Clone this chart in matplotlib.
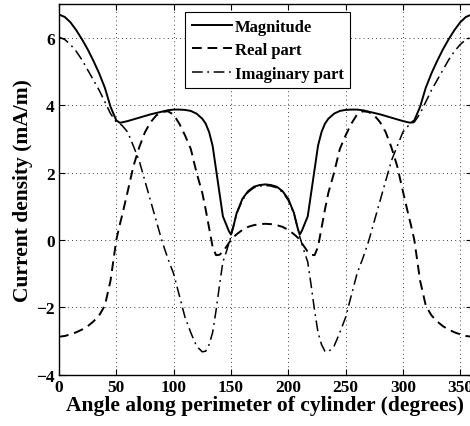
import matplotlib
matplotlib.use("Agg")
import matplotlib.pyplot as plt

angle = [0, 5, 10, 15, 20, 25, 30, 35, 40, 45, 50, 53, 55, 60, 65, 70, 75, 80, 85, 90,
         95, 100, 105, 110, 115, 120, 125, 128, 131, 134, 137, 140, 143, 146, 148, 150,
         152, 155, 160, 165, 170, 175, 180,
         185, 190, 195, 200, 205, 208, 210, 212, 214, 217, 220, 223, 226, 229, 232, 235,
         240, 245, 250, 255, 260, 265, 270, 275, 280, 285, 290, 295, 300, 305, 307, 310,
         315, 320, 325, 330, 335, 340, 345, 350, 355, 360]

magnitude = [6.69, 6.62, 6.46, 6.23, 5.96, 5.66, 5.32, 4.95, 4.52, 3.95, 3.55, 3.48, 3.49,
             3.53, 3.58, 3.63, 3.68, 3.73, 3.77, 3.81, 3.85, 3.87, 3.87, 3.86, 3.83, 3.75,
             3.60, 3.45, 3.20, 2.80, 2.10, 1.40, 0.70, 0.45, 0.28, 0.16, 0.38, 0.80, 1.22,
             1.45, 1.58, 1.63, 1.65,
             1.63, 1.58, 1.45, 1.22, 0.80, 0.38, 0.16, 0.28, 0.45, 0.70, 1.40, 2.10, 2.80,
             3.20, 3.45, 3.60, 3.75, 3.83, 3.86, 3.87, 3.87, 3.85, 3.81, 3.77, 3.73, 3.68,
             3.63, 3.58, 3.53, 3.49, 3.48, 3.55, 3.95, 4.52, 4.95, 5.32, 5.66, 5.96, 6.23,
             6.46, 6.62, 6.69]

real_part = [-2.87, -2.85, -2.80, -2.74, -2.66, -2.56, -2.42, -2.24, -1.95, -1.20, 0.00,
             0.45, 0.72, 1.45, 2.20, 2.75, 3.20, 3.50, 3.70, 3.80, 3.82, 3.72, 3.45, 3.10,
             2.70, 2.00, 1.40, 0.90, 0.35, -0.20, -0.45, -0.44, -0.35, -0.20, -0.10, 0.00,
             0.08, 0.17, 0.30, 0.39, 0.44, 0.47, 0.48,
             0.47, 0.44, 0.39, 0.30, 0.17, 0.08, 0.00, -0.10, -0.20, -0.35, -0.44, -0.45,
             -0.20, 0.35, 0.90, 1.40, 2.00, 2.70, 3.10, 3.45, 3.72, 3.82, 3.80, 3.70, 3.50,
             3.20, 2.75, 2.20, 1.45, 0.72, 0.45, 0.00, -1.20, -1.95, -2.24, -2.42, -2.56,
             -2.66, -2.74, -2.80, -2.85, -2.87]

imag_part = [6.02, 5.95, 5.80, 5.60, 5.35, 5.05, 4.75, 4.45, 4.10, 3.75, 3.50, 3.45, 3.40,
             3.20, 2.78, 2.35, 1.75, 1.15, 0.55, -0.05, -0.55, -1.00, -1.65, -2.30, -2.75,
             -3.15, -3.32, -3.30, -3.10, -2.75, -2.10, -1.35, -0.65, -0.35, -0.12, 0.10,
             0.38, 0.78, 1.18, 1.42, 1.55, 1.60, 1.62,
             1.60, 1.55, 1.42, 1.18, 0.78, 0.38, 0.10, -0.12, -0.35, -0.65, -1.35, -2.10,
             -2.75, -3.10, -3.30, -3.32, -3.15, -2.75, -2.30, -1.65, -1.00, -0.55, -0.05,
             0.55, 1.15, 1.75, 2.35, 2.78, 3.20, 3.40, 3.45, 3.50, 3.75, 4.10, 4.45, 4.75,
             5.05, 5.35, 5.60, 5.80, 5.95, 6.02]

x_ticks = [0, 50, 100, 150, 200, 250, 300, 350]
y_ticks = [-4, -2, 0, 2, 4, 6]

plt.rcParams['font.family'] = ['Liberation Serif', 'DejaVu Serif']
plt.rcParams['font.weight'] = 'bold'

fig = plt.figure(figsize=(4.70, 4.27), dpi=100)
ax = fig.add_axes([0.1255, 0.120, 0.878, 0.868])

ax.plot(angle, magnitude, color='black', lw=1.4, ls='-', label='Magnitude')
ax.plot(angle, real_part, color='black', lw=1.4, ls=(0, (5, 3)), label='Real part')
ax.plot(angle, imag_part, color='black', lw=1.1, ls=(0, (7, 3, 1.2, 3)), label='Imaginary part')

ax.set_xlim(0, 360)
ax.set_ylim(-4, 7)
ax.set_xticks(x_ticks)
ax.set_yticks(y_ticks)
ax.set_xticklabels([str(v) for v in x_ticks], fontsize=12.5, fontweight='bold')
ax.set_yticklabels([str(v).replace('-', '\u2212') for v in y_ticks], fontsize=12.5, fontweight='bold')
ax.tick_params(direction='in', top=True, right=True, length=4, width=0.8, pad=3)
ax.grid(True, color='black', ls=(0, (1, 4)), lw=0.6)
for s in ax.spines.values():
    s.set_linewidth(1.0)

ax.set_xlabel('Angle along perimeter of cylinder (degrees)', fontsize=15.5, fontweight='bold', labelpad=0)
ax.set_ylabel('Current density (mA/m)', fontsize=15.5, fontweight='bold', labelpad=2)

leg = ax.legend(loc='upper left', bbox_to_anchor=(0.305, 0.979), fontsize=12,
                frameon=True, fancybox=False, edgecolor='black', framealpha=1,
                handlelength=2.4, handletextpad=0.2, borderpad=0.4, labelspacing=0.45,
                borderaxespad=0)
leg.get_frame().set_linewidth(0.8)
for t in leg.get_texts():
    t.set_fontweight('bold')

fig.savefig('out.png', dpi=100)
